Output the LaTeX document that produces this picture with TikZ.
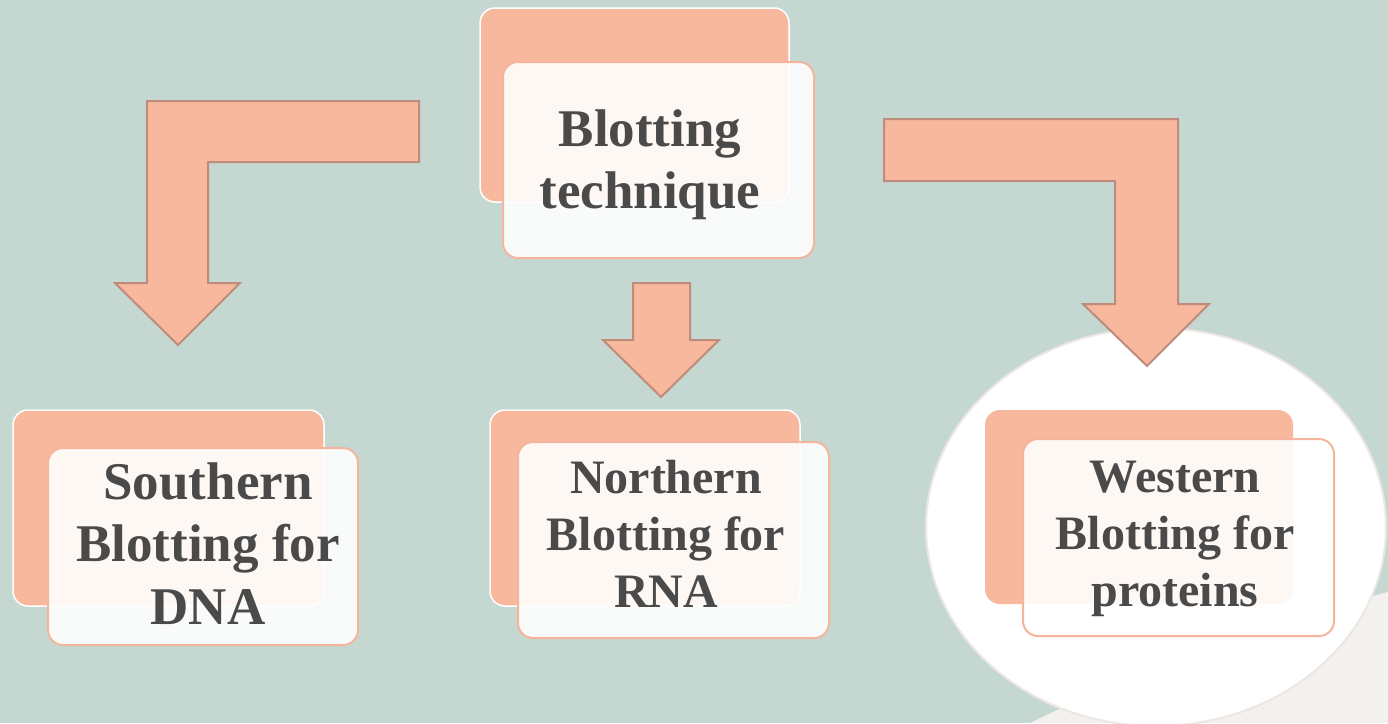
\documentclass[tikz,border=0pt]{standalone}
\usepackage{fontspec}
\setmainfont{Liberation Serif}
\usetikzlibrary{shapes.geometric}
\definecolor{bgc}{HTML}{C4D7D1}
\definecolor{salmon}{HTML}{F8B89E}
\definecolor{arrbd}{HTML}{BF8B7A}
\definecolor{txtc}{HTML}{4A4A4A}
\definecolor{frontbd}{HTML}{F5B59C}
\definecolor{circbd}{HTML}{ECE7E3}
\definecolor{offw}{HTML}{F2F1ED}
\tikzset{
  backbox/.style={draw=white, line width=1.5pt, fill=salmon, rounded corners=15pt, inner sep=0pt},
  frontbox/.style={draw=frontbd, line width=2pt, fill=white, fill opacity=0.9, draw opacity=1, rounded corners=15pt, inner sep=0pt},
  blockarrow/.style={draw=arrbd, line width=2pt, fill=salmon, line join=miter},
  bigtxt/.style={text=txtc, align=center, inner sep=0pt, font=\fontsize{53}{62.5}\selectfont\bfseries},
  midtxt/.style={text=txtc, align=center, inner sep=0pt, font=\fontsize{48}{57}\selectfont\bfseries},
}
\begin{document}
\begin{tikzpicture}[x=1pt,y=-1pt]
\useasboundingbox (0,0) rectangle (1388,723);
\fill[bgc] (0,0) rectangle (1388,723);
% off-white backdrop bottom right
\fill[offw] (1030,723) .. controls (1180,650) and (1300,615) .. (1388,592) -- (1388,723) -- cycle;
% white circle
\node[ellipse, draw=circbd, line width=2pt, fill=white, minimum width=460pt, minimum height=398pt, inner sep=0pt] (circ) at (1156,527) {};
% top box
\node[backbox, minimum width=309pt, minimum height=194pt] (tb) at (634.5,105) {};
\node[frontbox, minimum width=311pt, minimum height=196pt] (tf) at (658.5,160) {};
\node[bigtxt] (tt) at (650,165) {Blotting\\technique};
% southern
\node[backbox, minimum width=311pt, minimum height=196pt] (sb) at (168.5,508) {};
\node[frontbox, minimum width=310pt, minimum height=197pt] (sf) at (203,546.5) {};
\node[bigtxt] (st) at (208,543.5) {Southern\\Blotting for\\DNA};
% northern
\node[backbox, minimum width=310pt, minimum height=196pt] (nb) at (645,508) {};
\node[frontbox, minimum width=311pt, minimum height=196pt] (nf) at (673.5,540) {};
\node[midtxt] (nt) at (666,534) {Northern\\Blotting for\\RNA};
% western
\node[backbox, draw=none, minimum width=308pt, minimum height=194pt] (wb) at (1139,507) {};
\node[frontbox, minimum width=311pt, minimum height=197pt] (wf) at (1178.5,537.5) {};
\node[midtxt] (wt) at (1175,539) {Western\\Blotting for\\proteins};
% arrows
\draw[blockarrow] (147,101) -- (419,101) -- (419,162) -- (208,162) -- (208,283) -- (240,283) -- (178,345) -- (115,283) -- (147,283) -- cycle;
\draw[blockarrow] (633,283) -- (690,283) -- (690,340) -- (719,340) -- (661,397) -- (603,340) -- (633,340) -- cycle;
\draw[blockarrow] (884,119) -- (1178,119) -- (1178,304) -- (1209,304) -- (1147,366) -- (1083,304) -- (1115,304) -- (1115,181) -- (884,181) -- cycle;
\end{tikzpicture}
\end{document}
